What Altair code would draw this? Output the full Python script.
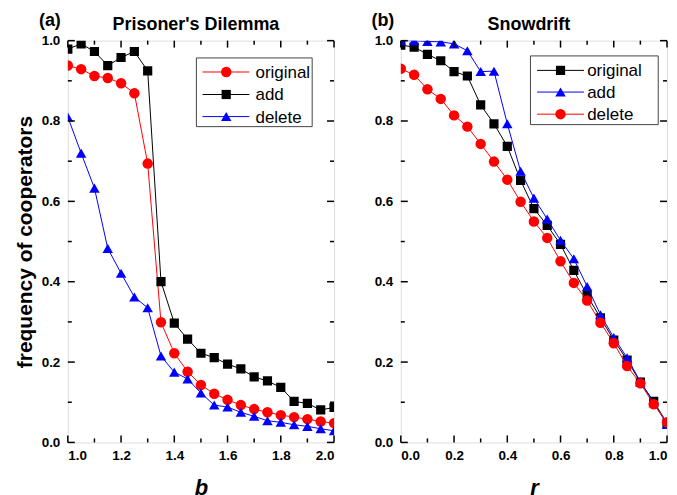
import altair as alt
import pandas as pd

# ---------------- data ----------------
b_vals = [1.0, 1.05, 1.1, 1.15, 1.2, 1.25, 1.3, 1.35, 1.4, 1.45, 1.5,
          1.55, 1.6, 1.65, 1.7, 1.75, 1.8, 1.85, 1.9, 1.95, 2.0]
pd_original = [0.938, 0.929, 0.912, 0.907, 0.894, 0.869, 0.694, 0.299, 0.222, 0.176, 0.143,
               0.121, 0.106, 0.093, 0.083, 0.075, 0.068, 0.063, 0.058, 0.052, 0.048]
pd_add = [0.979, 0.992, 0.973, 0.938, 0.958, 0.973, 0.925, 0.400, 0.297, 0.257, 0.222,
          0.211, 0.195, 0.183, 0.163, 0.153, 0.137, 0.102, 0.097, 0.081, 0.087]
pd_delete = [0.810, 0.720, 0.633, 0.483, 0.421, 0.362, 0.335, 0.215, 0.175, 0.158, 0.123,
             0.093, 0.088, 0.075, 0.065, 0.054, 0.050, 0.044, 0.040, 0.034, 0.029]

r_vals = [0.0, 0.05, 0.1, 0.15, 0.2, 0.25, 0.3, 0.35, 0.4, 0.45, 0.5,
          0.55, 0.6, 0.65, 0.7, 0.75, 0.8, 0.85, 0.9, 0.95, 1.0]
sd_original = [0.989, 0.984, 0.966, 0.950, 0.923, 0.912, 0.840, 0.793, 0.737, 0.652, 0.582,
               0.540, 0.493, 0.428, 0.366, 0.310, 0.255, 0.205, 0.150, 0.102, 0.048]
sd_add = [1.0, 1.0, 0.998, 0.997, 0.992, 0.975, 0.923, 0.924, 0.793, 0.675, 0.608,
          0.556, 0.503, 0.457, 0.388, 0.318, 0.261, 0.211, 0.151, 0.099, 0.045]
sd_delete = [0.930, 0.915, 0.879, 0.855, 0.814, 0.786, 0.743, 0.699, 0.654, 0.599, 0.550,
             0.509, 0.451, 0.397, 0.353, 0.298, 0.247, 0.190, 0.147, 0.095, 0.050]

series_labels = ["original", "add", "delete"]

b_major = [1.0, 1.2, 1.4, 1.6, 1.8, 2.0]
b_minor = [1.1, 1.3, 1.5, 1.7, 1.9]
r_major = [0.0, 0.2, 0.4, 0.6, 0.8, 1.0]
r_minor = [0.1, 0.3, 0.5, 0.7, 0.9]
y_major = [0.0, 0.2, 0.4, 0.6, 0.8, 1.0]
y_minor = [0.1, 0.3, 0.5, 0.7, 0.9]

# legend placement in data units
pd_legend = dict(box=(1.483, 1.918, 0.786, 0.957), line=(1.506, 1.682), mark=1.595,
                 text=1.705, rows=[0.922, 0.866, 0.811])
sd_legend = dict(box=(0.487, 0.967, 0.791, 0.962), line=(0.512, 0.688), mark=0.600,
                 text=0.700, rows=[0.926, 0.872, 0.817])

W, H = 267, 403
FONT = "Arial"
RED, BLACK, BLUE = "#ff0000", "#000000", "#0000ff"

styles_pd = [(RED, "circle", 110), (BLACK, "square", 85), (BLUE, "triangle-up", 110)]
styles_sd = [(BLACK, "square", 85), (BLUE, "triangle-up", 110), (RED, "circle", 110)]


def panel(xvals, ys, styles, xdomain, xmaj, xmin, title, letter, xtitle, leg, ytitle):
    xscale = alt.Scale(domain=xdomain, nice=False, zero=False)
    yscale = alt.Scale(domain=[0, 1], nice=False, zero=False)
    xaxis = alt.Axis(values=xmaj, format=".1f", labelFont=FONT, labelFontSize=13.5,
                     labelFontWeight="bold", labelColor="black", labelPadding=6,
                     domain=False, ticks=False, grid=False, title=xtitle,
                     titleFont=FONT, titleFontSize=22, titleFontWeight="bold",
                     titleFontStyle="italic", titleColor="black", titlePadding=16)
    yaxis = alt.Axis(values=y_major, format=".1f", labelFont=FONT, labelFontSize=13.5,
                     labelFontWeight="bold", labelColor="black", labelPadding=8,
                     domain=False, ticks=False, grid=False,
                     title=ytitle if ytitle else None,
                     titleFont=FONT, titleFontSize=21, titleFontWeight="bold",
                     titleColor="black", titlePadding=6)
    X = lambda f="x": alt.X(f"{f}:Q", scale=xscale, axis=xaxis)
    Y = lambda f="y": alt.Y(f"{f}:Q", scale=yscale, axis=yaxis)

    layers = []
    for lab, vals, (col, shp, sz) in zip(series_labels, ys, styles):
        df = pd.DataFrame({"x": xvals, "y": vals})
        base = alt.Chart(df)
        layers.append(base.mark_line(color=col, strokeWidth=1, clip=True).encode(x=X(), y=Y()))
        layers.append(base.mark_point(color=col, shape=shp, size=sz, filled=True, opacity=1,
                                      clip=True).encode(x=X(), y=Y()))

    # ticks (inside, all four sides)
    for vals, ln in ((xmaj, 7), (xmin, 4)):
        d = alt.Chart(pd.DataFrame({"x": vals}))
        layers.append(d.mark_rule(color="black", strokeWidth=1.5).encode(
            x=X(), y=alt.value(H), y2=alt.value(H - ln)))
        layers.append(d.mark_rule(color="black", strokeWidth=1.5).encode(
            x=X(), y=alt.value(0), y2=alt.value(ln)))
    for vals, ln in ((y_major, 7), (y_minor, 4)):
        d = alt.Chart(pd.DataFrame({"y": vals}))
        layers.append(d.mark_rule(color="black", strokeWidth=1.5).encode(
            y=Y(), x=alt.value(0), x2=alt.value(ln)))
        layers.append(d.mark_rule(color="black", strokeWidth=1.5).encode(
            y=Y(), x=alt.value(W), x2=alt.value(W - ln)))

    # legend
    bx0, bx1, by0, by1 = leg["box"]
    box = pd.DataFrame({"x": [bx0], "x2": [bx1], "y": [by0], "y2": [by1]})
    layers.append(alt.Chart(box).mark_rect(fill="white", stroke="#444444", strokeWidth=1).encode(
        x=X(), x2="x2:Q", y=Y(), y2="y2:Q"))
    lx0, lx1 = leg["line"]
    for lab, (col, shp, sz), ry in zip(series_labels, styles, leg["rows"]):
        seg = pd.DataFrame({"x": [lx0], "x2": [lx1], "y": [ry]})
        layers.append(alt.Chart(seg).mark_rule(color=col, strokeWidth=1).encode(
            x=X(), x2="x2:Q", y=Y()))
        pt = pd.DataFrame({"x": [leg["mark"]], "y": [ry]})
        layers.append(alt.Chart(pt).mark_point(color=col, shape=shp, size=sz, filled=True,
                                               opacity=1).encode(x=X(), y=Y()))
        tx = pd.DataFrame({"x": [leg["text"]], "y": [ry], "t": [lab]})
        layers.append(alt.Chart(tx).mark_text(align="left", baseline="middle", font=FONT,
                                              fontSize=17, color="black", dy=1).encode(
            x=X(), y=Y(), text="t:N"))

    # panel letter and panel title
    let = pd.DataFrame({"t": [letter]})
    layers.append(alt.Chart(let).mark_text(align="center", baseline="alphabetic", font=FONT,
                                           fontSize=18, fontWeight="bold", color="black").encode(
        x=alt.value(-18), y=alt.value(-15), text="t:N"))
    ttl = pd.DataFrame({"t": [title]})
    layers.append(alt.Chart(ttl).mark_text(align="center", baseline="alphabetic", font=FONT,
                                           fontSize=18, fontWeight="bold", color="black").encode(
        x=alt.value(W / 2 - 5), y=alt.value(-11), text="t:N"))

    return alt.layer(*layers).properties(width=W, height=H)


left = panel(b_vals, [pd_original, pd_add, pd_delete], styles_pd, [1.0, 2.0], b_major, b_minor,
             "Prisoner's Dilemma", "(a)", "b", pd_legend, "frequency of cooperators")
right = panel(r_vals, [sd_original, sd_add, sd_delete], styles_sd, [0.0, 1.0], r_major, r_minor,
              "Snowdrift", "(b)", "r", sd_legend, None)

chart = alt.hconcat(left, right, spacing=35).properties(
    padding={"left": 5, "top": 2, "right": 0, "bottom": 0}
).configure_view(stroke="black", strokeWidth=1.8).configure(background="white")

chart.save("out.html", embed_options={"renderer": "svg", "actions": False})
